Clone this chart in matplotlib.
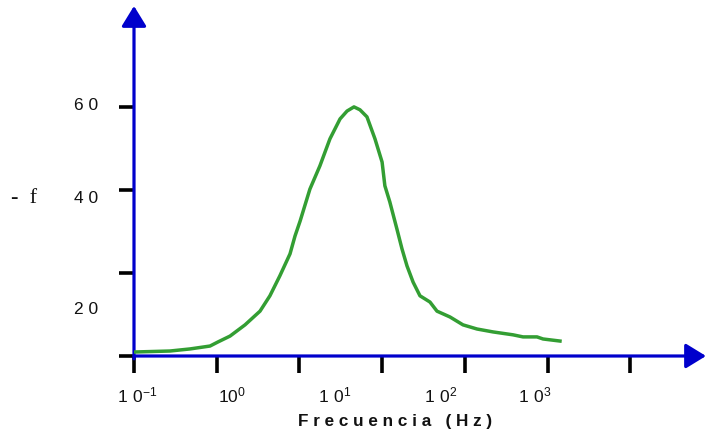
import numpy as np
import matplotlib
matplotlib.use("Agg")
import matplotlib.pyplot as plt

plt.rcParams['font.family'] = ['Liberation Sans', 'DejaVu Sans']
plt.rcParams['mathtext.fontset'] = 'custom'
plt.rcParams['mathtext.rm'] = 'Liberation Sans'

# data
freq = [0.1, 0.272, 0.475, 0.83, 1.04, 1.45, 2.2, 3.34, 4.4, 5.8, 7.7, 8.85,
        10.2, 13.4, 17.7, 23.4, 31, 37.7, 45.7, 54, 65.6, 82, 100, 108, 124,
        151, 174, 200, 237, 287, 379, 461, 662, 951, 1406, 2193, 3828, 5058,
        7464, 8831, 14158]
value = [0.96, 1.2, 1.7, 2.4, 3.4, 4.8, 7.5, 10.8, 14.5, 19.3, 24.6, 28.9,
         32.5, 40.2, 45.8, 52.3, 57.1, 59.0, 60.0, 59.3, 57.6, 52.3, 46.7, 41.0, 37.1,
         30.6, 25.8, 21.7, 17.8, 14.5, 13.0, 10.8, 9.4, 7.5, 6.5, 5.8, 5.1, 4.6,
         4.6, 4.1, 3.6]
xticks = [1e-1, 1e0, 1e1, 1e2, 1e3, 1e4, 1e5]
yticks = [0, 20, 40, 60]
xlabels = [r'$\mathregular{1\ 0^{-1}}$', r'$\mathregular{1 0^{0}}$', r'$\mathregular{1\ 0^{1}}$',
           r'$\mathregular{1\ 0^{2}}$', r'$\mathregular{1\ 0^{3}}$']
ylabels = ['6 0', '4 0', '2 0']

W, H = 706, 435
blue = '#0000cc'
green = '#339e33'

fig = plt.figure(figsize=(W / 100, H / 100), dpi=100)
ax = fig.add_axes([134 / W, (H - 357) / H, (W - 134) / W, 350 / H])
ax.set_xscale('log')
ax.set_xlim(0.1, 10 ** (-1 + 572 / 82.7))
ax.set_ylim(0, 84.3)
for s in ax.spines.values():
    s.set_visible(False)
ax.patch.set_visible(False)

ax.set_xticks(xticks)
ax.set_yticks(yticks)
ax.minorticks_off()
ax.tick_params(axis='x', direction='out', length=12.5, width=2.6, color='black', labelbottom=False)
ax.tick_params(axis='y', direction='out', length=11, width=2.6, color='black', labelleft=False)

arrow = dict(arrowstyle='-|>,head_length=0.62,head_width=0.38', color=blue, lw=2.3,
             shrinkA=0, shrinkB=0, mutation_scale=20)
ax.annotate('', xy=(0, 1), xytext=(0, -0.008), xycoords='axes fraction', arrowprops=arrow)
ax.annotate('', xy=(1, 0), xytext=(0, 0), xycoords='axes fraction', arrowprops=arrow)

ax.plot(freq, value, color=green, lw=2.5, solid_joinstyle='round', zorder=4)

# tick labels sit where the original put them
xlab_pos = [137, 232, 335, 441, 535]
for lab, px in zip(xlabels, xlab_pos):
    fig.text(px / W, 1 - 395 / H, lab, ha='center', va='center', fontsize=12.5, color='#111111')
ylab_pos = [106, 199, 310]
for lab, py in zip(ylabels, ylab_pos):
    fig.text(86 / W, 1 - py / H, lab, ha='center', va='center', fontsize=12.5, color='#111111')

fig.text(24 / W, 1 - 199 / H, '-  f', ha='center', va='center', fontsize=16,
         family='Liberation Serif', color='#111111')
fig.text(395 / W, 1 - 422 / H, 'F r e c u e n c i a   ( H z )', ha='center', va='center',
         fontsize=12.3, fontweight='bold', color='#111111')

fig.savefig('out.png', dpi=100)
